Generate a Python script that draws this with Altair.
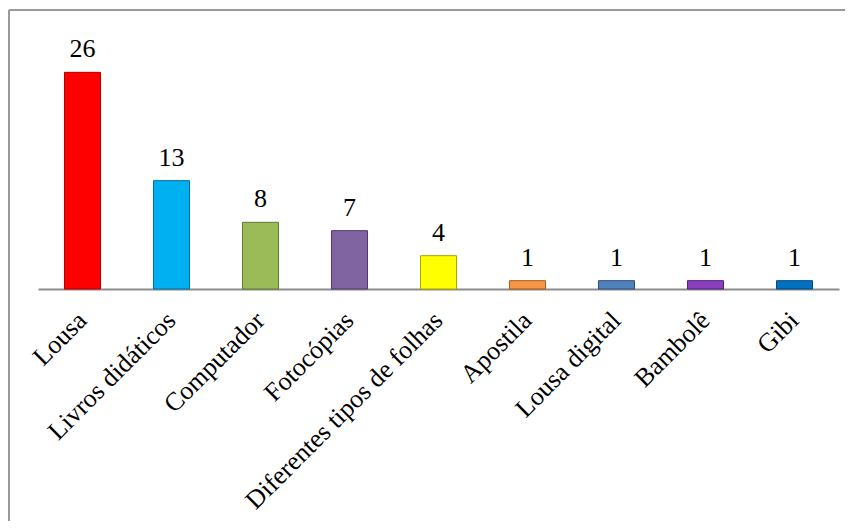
import altair as alt
import pandas as pd

categories = ["Lousa", "Livros didáticos", "Computador", "Fotocópias",
              "Diferentes tipos de folhas", "Apostila", "Lousa digital", "Bambolê", "Gibi"]
values = [26, 13, 8, 7, 4, 1, 1, 1, 1]
colors = ["#FF0000", "#00B0F0", "#9BBB59", "#8064A2", "#FFFF00",
          "#F79646", "#4F81BD", "#8B3FBF", "#0070C0"]
edges = ["#B00000", "#006E99", "#5E7A2E", "#4B3868", "#A6A600",
         "#A85A1E", "#2C4E78", "#4F1E78", "#00497E"]

df = pd.DataFrame({"cat": categories, "val": values})

FONT = "Liberation Serif"

x = alt.X("cat:N", sort=categories, title=None,
          scale=alt.Scale(paddingInner=0.595, paddingOuter=0.2975),
          axis=alt.Axis(labelAngle=-45, labelAlign="right", labelBaseline="middle",
                        labelFont=FONT, labelFontSize=26, labelColor="#000000",
                        labelPadding=27, ticks=False, domainColor="#8c8c8c",
                        domainWidth=2, labelLimit=400, labelOverlap=False))
y = alt.Y("val:Q", scale=alt.Scale(domain=[0, 30]), axis=None, title=None)

bars = alt.Chart(df).mark_bar(strokeWidth=1).encode(
    x=x, y=y,
    color=alt.Color("cat:N", sort=categories,
                    scale=alt.Scale(domain=categories, range=colors), legend=None),
    stroke=alt.Stroke("cat:N", sort=categories,
                      scale=alt.Scale(domain=categories, range=edges), legend=None),
)

text = alt.Chart(df).mark_text(font=FONT, fontSize=26, baseline="alphabetic", dy=-15,
                               color="#000000").encode(
    x=alt.X("cat:N", sort=categories), y="val:Q", text="val:Q")

border_top = alt.Chart(df).mark_rule(color="#9a9a9a", strokeWidth=2).encode(
    x=alt.value(-29), x2=alt.value(840), y=alt.value(-29))
border_left = alt.Chart(df).mark_rule(color="#9a9a9a", strokeWidth=2).encode(
    x=alt.value(-29), y=alt.value(-29), y2=alt.value(520))

chart = alt.layer(border_top, border_left, bars, text).properties(
    width=801, height=250,
    autosize=alt.AutoSizeParams(type="none"),
    padding={"left": 30, "top": 31, "right": 6, "bottom": 232},
    background="white",
).configure_view(stroke=None).configure_text(font=FONT)

chart.save("out.html", embed_options={"renderer": "svg", "actions": False})
